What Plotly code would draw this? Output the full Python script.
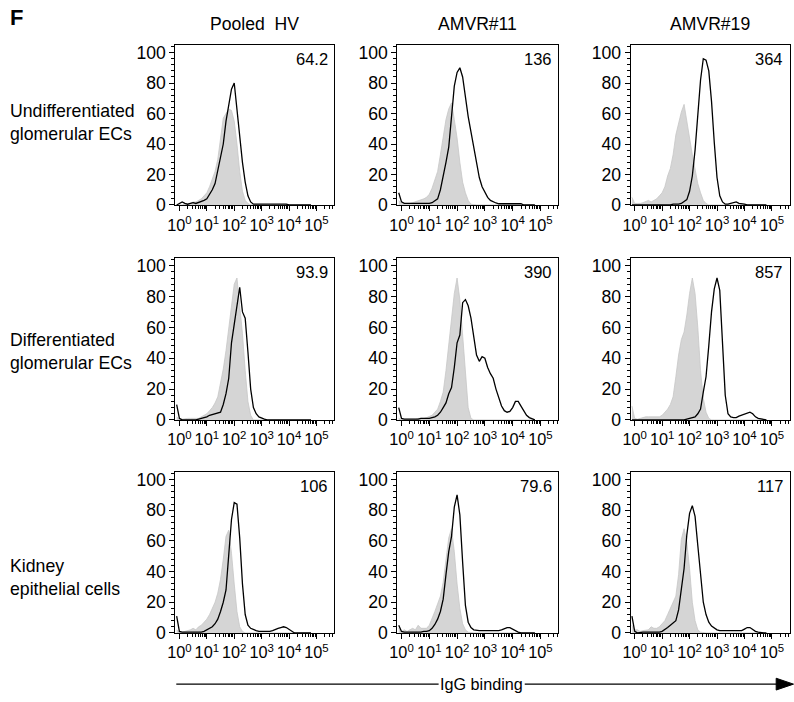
import plotly.graph_objects as go

# ---------------- data ----------------
COLUMNS = ["Pooled\u00a0 HV", "AMVR#11", "AMVR#19"]
ROWS = ["Undifferentiated<br>glomerular ECs",
        "Differentiated<br>glomerular ECs",
        "Kidney<br>epithelial cells"]
MFI = [["64.2", "136", "364"],
       ["93.9", "390", "857"],
       ["106", "79.6", "117"]]
Y_TICKS = [0, 20, 40, 60, 80, 100]
X_TICK_VALS = [1, 10, 100, 1000, 10000, 100000]
X_TICK_TEXT = ["10<sup>0</sup>", "10<sup>1</sup>", "10<sup>2</sup>",
               "10<sup>3</sup>", "10<sup>4</sup>", "10<sup>5</sup>"]
AXIS_TITLE = "IgG binding"

# histogram bin centres (log10 of fluorescence intensity)
LOG_BINS = [-0.1, 0.0, 0.1, 0.2, 0.3, 0.4, 0.5, 0.6, 0.7, 0.8,
            0.9, 1.0, 1.1, 1.2, 1.3, 1.4, 1.5, 1.6, 1.7, 1.8,
            1.9, 2.0, 2.1, 2.2, 2.3, 2.4, 2.5, 2.6, 2.7, 2.8,
            2.9, 3.0, 3.1, 3.2, 3.3, 3.4, 3.5, 3.6, 3.7, 3.8,
            3.9, 4.0, 4.1, 4.2, 4.3, 4.4, 4.5, 4.6, 4.7, 4.8]

# row 1: undifferentiated glomerular ECs
hv_undiff_ctrl = [0, 0, 0, 0.5, 0.5, 1, 2, 2, 3, 4,
                  6, 8, 12, 17, 22, 30, 45, 57, 60, 63,
                  62, 55, 40, 22, 9, 3, 1, 0, 0, 0,
                  0, 0, 0, 0, 0, 0, 0, 0, 0, 0,
                  0, 0, 0, 0, 0, 0, 0, 0, 0, 0]
hv_undiff_igg = [0, 1, 2, 1, 0.5, 1, 1.5, 1, 1.5, 2,
                 3, 4, 7, 10, 14, 22, 30, 40, 55, 67,
                 76, 80, 62, 44, 28, 15, 6, 2, 0.5, 0.5,
                 0.5, 0.5, 0.5, 0.5, 0.5, 0.5, 0.5, 0.5, 0.5, 0.5,
                 0.5, 0, 0, 0, 0, 0, 0, 0, 0, 0]
p11_undiff_ctrl = [3, 1, 1, 1, 1, 1.5, 2, 3, 3, 4,
                   5, 7, 11, 17, 22, 33, 45, 56, 63, 67,
                   56, 44, 28, 15, 8, 3, 0.5, 0, 0, 0,
                   0, 0, 0, 0, 0, 0, 0, 0, 0, 0,
                   0, 0, 0, 0, 0, 0, 0, 0, 0, 0]
p11_undiff_igg = [8, 2, 1, 1, 1, 1, 1, 1, 1, 1,
                  1, 1, 1.5, 3, 4, 10, 18, 28, 38, 60,
                  78, 87, 90, 84, 70, 58, 48, 37, 26, 18,
                  12, 8, 5, 3, 2, 1.3, 0.8, 0.8, 0.8, 0.8,
                  0.8, 0.8, 0.8, 0.8, 0.8, 0, 0, 0, 0, 0]
p19_undiff_ctrl = [5, 1, 1, 1, 1.5, 2, 3, 2, 3, 4,
                   6, 8, 12, 19, 24, 33, 46, 54, 61, 66,
                   56, 44, 33, 23, 14, 8, 3, 1, 0, 0,
                   0, 0, 0, 0, 0, 0, 0, 0, 0, 0,
                   0, 0, 0, 0, 0, 0, 0, 0, 0, 0]
p19_undiff_igg = [0, 0, 0, 0, 0, 0, 0, 0, 0, 0,
                  0, 0, 0, 0, 0, 0.5, 0.5, 0.5, 1, 2,
                  3.5, 9, 19, 36, 57, 82, 96, 95, 88, 68,
                  41, 18, 6, 2, 0.5, 0.5, 1, 1.5, 2, 1,
                  0.5, 0.5, 0, 0, 0, 0, 0, 0, 0, 0]

# row 2: differentiated glomerular ECs
hv_diff_ctrl = [2, 0.5, 0.5, 1, 1, 1, 1, 1, 1, 2,
                3, 4, 6, 8, 11, 15, 24, 33, 45, 60,
                72, 88, 92, 75, 56, 32, 12, 3, 0, 0,
                0, 0, 0, 0, 0, 0, 0, 0, 0, 0,
                0, 0, 0, 0, 0, 0, 0, 0, 0, 0]
hv_diff_igg = [10, 1, 0, 0, 0, 0, 0, 0, 0.5, 1,
               1.5, 2, 3, 3.5, 4, 4.5, 5, 10, 17, 27,
               50, 62, 74, 86, 70, 66, 44, 20, 8, 4,
               2, 1, 0.5, 0, 0, 0, 0, 0, 0, 0,
               0, 0, 0, 0, 0, 0, 0, 0, 0, 0]
p11_diff_ctrl = [1, 0, 0.5, 0.5, 0.5, 0.5, 0.5, 1, 1, 1,
                 1.5, 2, 3, 5, 7, 12, 18, 32, 48, 66,
                 82, 92, 78, 55, 28, 8, 1, 0, 0, 0,
                 0, 0, 0, 0, 0, 0, 0, 0, 0, 0,
                 0, 0, 0, 0, 0, 0, 0, 0, 0, 0]
p11_diff_igg = [8, 1, 0.5, 0.5, 0.5, 0.5, 0.5, 0.5, 1, 1,
                1, 1, 1.5, 2, 3, 5, 8, 11, 17, 21,
                34, 50, 55, 76, 78, 74, 66, 53, 42, 38,
                41, 40, 34, 30, 27, 20, 14, 9, 6, 5,
                5.5, 8, 12, 12, 9, 6, 3, 1.5, 0.5, 0]
p19_diff_ctrl = [9, 1, 0.5, 1, 2, 2, 2, 2, 2, 2,
                 2, 3, 5, 7, 10, 15, 28, 42, 52, 57,
                 68, 82, 92, 82, 60, 32, 14, 5, 1, 0,
                 0, 0, 0, 0, 0, 0, 0, 0, 0, 0,
                 0, 0, 0, 0, 0, 0, 0, 0, 0, 0]
p19_diff_igg = [0, 0, 0, 0, 0, 0, 0, 0, 0, 0,
                0, 0, 0, 0, 0, 0, 0, 0, 0, 0,
                0.5, 1, 1.5, 2, 4, 7, 18, 28, 48, 70,
                85, 92, 84, 50, 16, 4, 2, 1.5, 1.5, 2.5,
                3, 3.5, 4.5, 5, 4, 2, 1, 0.5, 0, 0]

# row 3: kidney epithelial cells
hv_kid_ctrl = [2, 0.5, 0.5, 1, 1, 2, 3, 2, 4, 5,
               7, 9, 12, 16, 20, 26, 35, 48, 63, 67,
               52, 32, 14, 4, 1, 0, 0, 0, 0, 0,
               0, 0, 0, 0, 0, 0, 0, 0, 0, 0,
               0, 0, 0, 0, 0, 0, 0, 0, 0, 0]
hv_kid_igg = [11, 1, 0.5, 0.5, 0.5, 0.5, 0.5, 0.5, 0.5, 0.5,
              1, 2, 3, 4, 6, 9, 14, 20, 28, 52,
              74, 85, 84, 62, 32, 12, 5, 3, 2, 1.5,
              1, 1, 1, 1, 1, 1.5, 2.5, 3, 3.5, 4,
              3.5, 2.5, 1, 0, 0, 0, 0, 0, 0, 0]
p11_kid_ctrl = [3, 1, 2, 1, 2, 3, 2, 5, 3, 3,
                3, 5, 9, 14, 19, 24, 33, 46, 62, 68,
                53, 32, 16, 6, 2, 0.5, 0, 0, 0, 0,
                0, 0, 0, 0, 0, 0, 0, 0, 0, 0,
                0, 0, 0, 0, 0, 0, 0, 0, 0, 0]
p11_kid_igg = [5, 1, 0.5, 0.5, 0.5, 0.5, 0.5, 0.5, 0.5, 1,
               1, 1.5, 3, 5.5, 9, 14, 22, 38, 53, 63,
               82, 90, 77, 46, 18, 7, 3.5, 2, 1.5, 1.5,
               1.5, 1.5, 1.5, 1.5, 1.5, 1.5, 1.5, 2, 3, 3.5,
               3.5, 2.5, 1, 0.5, 0, 0, 0, 0, 0, 0]
p19_kid_ctrl = [5, 2, 2, 1, 1.5, 2, 2, 4, 3, 3,
                4, 6, 8, 12, 16, 20, 24, 38, 61, 68,
                59, 42, 20, 8, 2, 0.5, 0, 0, 0, 0,
                0, 0, 0, 0, 0, 0, 0, 0, 0, 0,
                0, 0, 0, 0, 0, 0, 0, 0, 0, 0]
p19_kid_igg = [11, 1, 0, 0.5, 0.5, 0.5, 0.5, 0.5, 0.5, 0.5,
               0.5, 1, 2, 3.5, 5, 6.5, 8, 15, 27, 42,
               64, 78, 83, 76, 57, 36, 20, 12, 7, 4.5,
               3, 2, 1.5, 1.5, 1.5, 1.5, 1.5, 1.5, 1.5, 1.5,
               1.5, 2.5, 3.5, 3.5, 2, 1, 0.5, 0, 0, 0]

CONTROL = [[hv_undiff_ctrl, p11_undiff_ctrl, p19_undiff_ctrl],
           [hv_diff_ctrl, p11_diff_ctrl, p19_diff_ctrl],
           [hv_kid_ctrl, p11_kid_ctrl, p19_kid_ctrl]]
SAMPLE = [[hv_undiff_igg, p11_undiff_igg, p19_undiff_igg],
          [hv_diff_igg, p11_diff_igg, p19_diff_igg],
          [hv_kid_igg, p11_kid_igg, p19_kid_igg]]

# ---------------- layout ----------------
W, H = 794, 702
FONT = "Liberation Sans, Arial, Helvetica, sans-serif"
COL_PX = [(169.0, 329.6), (393.3, 556.1), (628.9, 789.7)]
ROW_PX = [(43.7, 206.5), (260.4, 425.2), (478.1, 641.9)]
ROW_LABEL_Y = [122.6, 356.0, 585.0]

x_vals = [10 ** b for b in LOG_BINS]
minor_vals = [m * 10 ** k for k in range(0, 6) for m in range(2, 10)]

fig = go.Figure()
layout = dict(
    width=W, height=H,
    margin=dict(l=0, r=0, t=0, b=0),
    paper_bgcolor="white", plot_bgcolor="white",
    showlegend=False,
    font=dict(family=FONT, color="black", size=14),
)
annotations = []
shapes = []

n = 0
for r in range(3):
    for c in range(3):
        n += 1
        xa = "x" if n == 1 else f"x{n}"
        ya = "y" if n == 1 else f"y{n}"
        fig.add_trace(go.Scatter(
            x=x_vals, y=CONTROL[r][c], xaxis=xa, yaxis=ya,
            mode="lines", line=dict(color="#c6c6c6", width=0.8),
            fill="tozeroy", fillcolor="#d5d5d5", hoverinfo="skip"))
        fig.add_trace(go.Scatter(
            x=x_vals, y=SAMPLE[r][c], xaxis=xa, yaxis=ya,
            mode="lines", line=dict(color="black", width=1.3),
            hoverinfo="skip"))
        x0, x1 = COL_PX[c]
        y0, y1 = ROW_PX[r]
        layout["xaxis" if n == 1 else f"xaxis{n}"] = dict(
            type="log", range=[-0.15, 5.65],
            domain=[x0 / W, x1 / W], anchor=ya,
            showline=True, mirror=True, linecolor="black", linewidth=1,
            showgrid=False, zeroline=False,
            ticks="outside", ticklen=5, tickwidth=1, tickcolor="black",
            tickmode="array", tickvals=X_TICK_VALS, ticktext=X_TICK_TEXT,
            tickfont=dict(size=16.3, family=FONT),
            minor=dict(ticks="outside", ticklen=3, tickwidth=0.8,
                       tickcolor="black", tickvals=minor_vals, showgrid=False),
            fixedrange=True,
        )
        layout["yaxis" if n == 1 else f"yaxis{n}"] = dict(
            range=[0, 105],
            domain=[1 - y1 / H, 1 - y0 / H], anchor=xa,
            showline=True, mirror=True, linecolor="black", linewidth=1,
            showgrid=False, zeroline=False,
            ticks="outside", ticklen=5, tickwidth=1, tickcolor="black",
            tickmode="array", tickvals=Y_TICKS,
            tickfont=dict(size=17.6, family=FONT),
            minor=dict(ticks="outside", ticklen=3, tickwidth=0.8,
                       tickcolor="black", dtick=4, showgrid=False),
            fixedrange=True,
        )
        annotations.append(dict(
            text=MFI[r][c], xref=f"{xa} domain", yref=f"{ya} domain",
            x=0.97, y=0.98, xanchor="right", yanchor="top",
            showarrow=False, font=dict(size=16.5, family=FONT)))

for c, name in enumerate(COLUMNS):
    x0, x1 = COL_PX[c]
    annotations.append(dict(
        text=name, xref="paper", yref="paper",
        x=(x0 + x1) / 2 / W, y=1 - 22.4 / H, xanchor="center", yanchor="middle",
        showarrow=False, font=dict(size=17.6, family=FONT)))

for r, name in enumerate(ROWS):
    annotations.append(dict(
        text=name, xref="paper", yref="paper", align="left",
        x=0, y=1 - ROW_LABEL_Y[r] / H, xanchor="left", yanchor="middle",
        showarrow=False, font=dict(size=17.7, family=FONT)))

annotations.append(dict(
    text="<b>F</b>", xref="paper", yref="paper", x=0.0, y=1 - 16 / H,
    xanchor="left", yanchor="middle", showarrow=False,
    font=dict(size=22, family=FONT)))

# IgG binding arrow
ay = 1 - 694 / H
annotations.append(dict(
    text=AXIS_TITLE, xref="paper", yref="paper", x=478.3 / W, y=ay,
    xanchor="center", yanchor="middle", showarrow=False,
    font=dict(size=16.2, family=FONT)))
shapes.append(dict(type="line", xref="paper", yref="paper",
                   x0=170 / W, x1=435 / W, y0=ay, y1=ay,
                   line=dict(color="black", width=1.2)))
shapes.append(dict(type="line", xref="paper", yref="paper",
                   x0=522 / W, x1=778 / W, y0=ay, y1=ay,
                   line=dict(color="black", width=1.2)))
shapes.append(dict(type="path", xref="paper", yref="paper",
                   path=f"M {776 / W} {ay + 6 / H} L {793.5 / W} {ay} L {776 / W} {ay - 6 / H} Z",
                   fillcolor="black", line=dict(color="black", width=1)))

layout["annotations"] = annotations
layout["shapes"] = shapes
fig.update_layout(**layout)

PIN_JS = ("document.documentElement.style.margin='0';document.documentElement.style.padding='0';"
          "document.body.style.margin='0';document.body.style.padding='0';"
          "document.body.style.overflow='hidden';"
          "var d=document.getElementsByClassName('plotly-graph-div')[0];"
          "d.style.position='absolute';d.style.left='0px';d.style.top='0px';")
fig.write_html("out.html", config={"displayModeBar": False}, post_script=PIN_JS)
